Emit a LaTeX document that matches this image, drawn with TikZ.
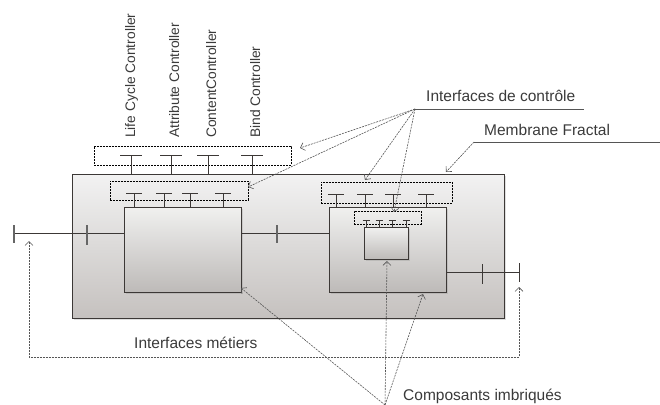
\documentclass[tikz,border=0pt]{standalone}
\usepackage{fontspec}
\setmainfont{Liberation Sans}
\usetikzlibrary{arrows.meta,shadows}
\definecolor{linec}{HTML}{3C3836}
\definecolor{memtop}{HTML}{F2F2F2}
\definecolor{membot}{HTML}{C5C1BF}
\definecolor{boxtop}{HTML}{F0F0EF}
\definecolor{boxbot}{HTML}{BDBAB8}
\definecolor{txtc}{HTML}{3A3A3A}
\definecolor{ptrc}{HTML}{555555}
\begin{document}
\begin{tikzpicture}[x=1pt,y=-1pt,
  >={Straight Barb[length=4pt,width=8pt]},
  comp/.style={draw=linec, line width=1pt, inner sep=0, anchor=north west,
    top color=boxtop, bottom color=boxbot,
    drop shadow={shadow xshift=1pt, shadow yshift=-1pt, opacity=0.25}},
  itfbox/.style={draw=black, dash pattern=on 2pt off 1pt, line width=0.7pt, inner sep=0, anchor=north west},
  tee/.style={draw=linec, line width=0.8pt},
  bar/.style={draw=gray!80!black, line width=1.3pt},
  ptr/.style={draw=ptrc, dash pattern=on 2pt off 1pt, line width=0.6pt, ->},
  uline/.style={draw=ptrc, line width=0.7pt},
  lbl/.style={text=txtc, inner sep=0, font=\fontsize{15.5}{18}\selectfont},
  ctl/.style={text=txtc, inner sep=0, rotate=90, anchor=base west, font=\fontsize{13.8}{16}\selectfont}]
\useasboundingbox (0,0) rectangle (660,404);

% membrane
\node[comp, top color=memtop, bottom color=membot, minimum width=432pt, minimum height=144pt] (mem) at (72,174) {};

% control interface boxes
\node[itfbox, minimum width=197pt, minimum height=19pt] (ctrl) at (94,146) {};
\node[itfbox, minimum width=138pt, minimum height=19pt] (d1) at (110,181) {};
\node[itfbox, minimum width=131pt, minimum height=21pt] (d2) at (321,182) {};

% components
\node[comp, minimum width=117pt, minimum height=85pt] (box1) at (124,207) {};
\node[comp, minimum width=117pt, minimum height=85pt] (box2) at (329,207) {};
\node[itfbox, minimum width=67pt, minimum height=13pt] (d3) at (354,211) {};
\node[comp, minimum width=44pt, minimum height=32pt] (box3) at (364,227) {};

% T connectors
\foreach \x/\n in {131/a,171/b,208/c,252/d}{
  \coordinate (ct\n) at (\x,155);
  \draw[tee] ([xshift=-11pt]ct\n) -- ([xshift=11pt]ct\n);
  \draw[tee] (ct\n) -- (ct\n |- mem.north);
}
\foreach \x/\n in {134/a,164/b,190/c,223/d}{
  \coordinate (da\n) at (\x,193);
  \draw[tee] ([xshift=-8pt]da\n) -- ([xshift=8pt]da\n);
  \draw[tee] (da\n) -- (da\n |- box1.north);
}
\foreach \x/\n in {336/a,365/b,393/c,426/d}{
  \coordinate (db\n) at (\x,194);
  \draw[tee] ([xshift=-8pt]db\n) -- ([xshift=8pt]db\n);
  \draw[tee] (db\n) -- (db\n |- box2.north);
}
\foreach \x/\n in {366/a,379/b,392/c,406/d}{
  \coordinate (dc\n) at (\x,220);
  \draw[tee, line width=0.7pt] ([xshift=-3.5pt]dc\n) -- ([xshift=3.5pt]dc\n);
  \draw[tee, line width=0.7pt] (dc\n) -- (dc\n |- box3.north);
}

% business interfaces
\coordinate (L0) at (14,233);
\coordinate (L1) at (87,233);
\coordinate (M1) at (277,233);
\coordinate (R1) at (482,272);
\coordinate (R0) at (519,272);
\draw[tee] (L0) -- (L0 -| box1.west);
\draw[tee] (box1.east |- L0) -- (box2.west |- L0);
\draw[tee] (box2.east |- R0) -- (R0);
\draw[bar] ([yshift=8pt]L0) -- ([yshift=-10pt]L0);
\draw[bar] ([yshift=8pt]L1) -- ([yshift=-12pt]L1);
\draw[bar] ([yshift=8pt]M1) -- ([yshift=-10pt]M1);
\draw[tee, line width=1pt] ([yshift=8pt]R1) -- ([yshift=-12pt]R1);
\draw[tee, line width=1pt] ([yshift=9pt]R0) -- ([yshift=-10pt]R0);

% Interfaces métiers
\coordinate (mL) at (29,241);
\coordinate (mR) at (519,287);
\coordinate (mB) at (29,357);
\draw[ptr, <->] (mL) -- (mB) -- (mB -| mR) -- (mR);
\node[lbl, anchor=base west] (tm) at (134,348) {Interfaces métiers};

% Composants imbriqués
\coordinate (cO) at (385,405);
\coordinate (cA) at (241,288);
\coordinate (cB) at (387,261);
\coordinate (cC) at (423,294);
\draw[ptr] (cO) -- (cA);
\draw[ptr] (cO) -- (cB);
\draw[ptr] (cO) -- (cC);
\node[lbl, anchor=base west] (tc) at (403,400) {Composants imbriqués};

% Interfaces de contrôle
\node[lbl, anchor=base west] (ti) at (426,101.5) {Interfaces de contrôle};
\coordinate (iO) at (415,109);
\coordinate (iE) at (584,109);
\draw[uline] (iO) -- (iE);
\coordinate (iA) at (300,148);
\coordinate (iB) at (248,187);
\coordinate (iC) at (365,180);
\coordinate (iD) at (394,212);
\draw[ptr] (iO) -- (iA);
\draw[ptr] (iO) -- (iB);
\draw[ptr] (iO) -- (iC);
\draw[ptr] (iO) -- (iD);

% Membrane Fractal
\node[lbl, anchor=base west] (tf) at (484,135) {Membrane Fractal};
\coordinate (fO) at (474,142);
\coordinate (fE) at (660,142);
\draw[uline] (fO) -- (fE);
\coordinate (fA) at (446,172);
\draw[ptr] (fO) -- (fA);

% controller labels
\node[ctl] (c1) at (135,138) {Life Cycle Controller};
\node[ctl] (c2) at (179,138) {Attribute Controller};
\node[ctl] (c3) at (216,138) {ContentController};
\node[ctl] (c4) at (260,138) {Bind Controller};
\end{tikzpicture}
\end{document}
